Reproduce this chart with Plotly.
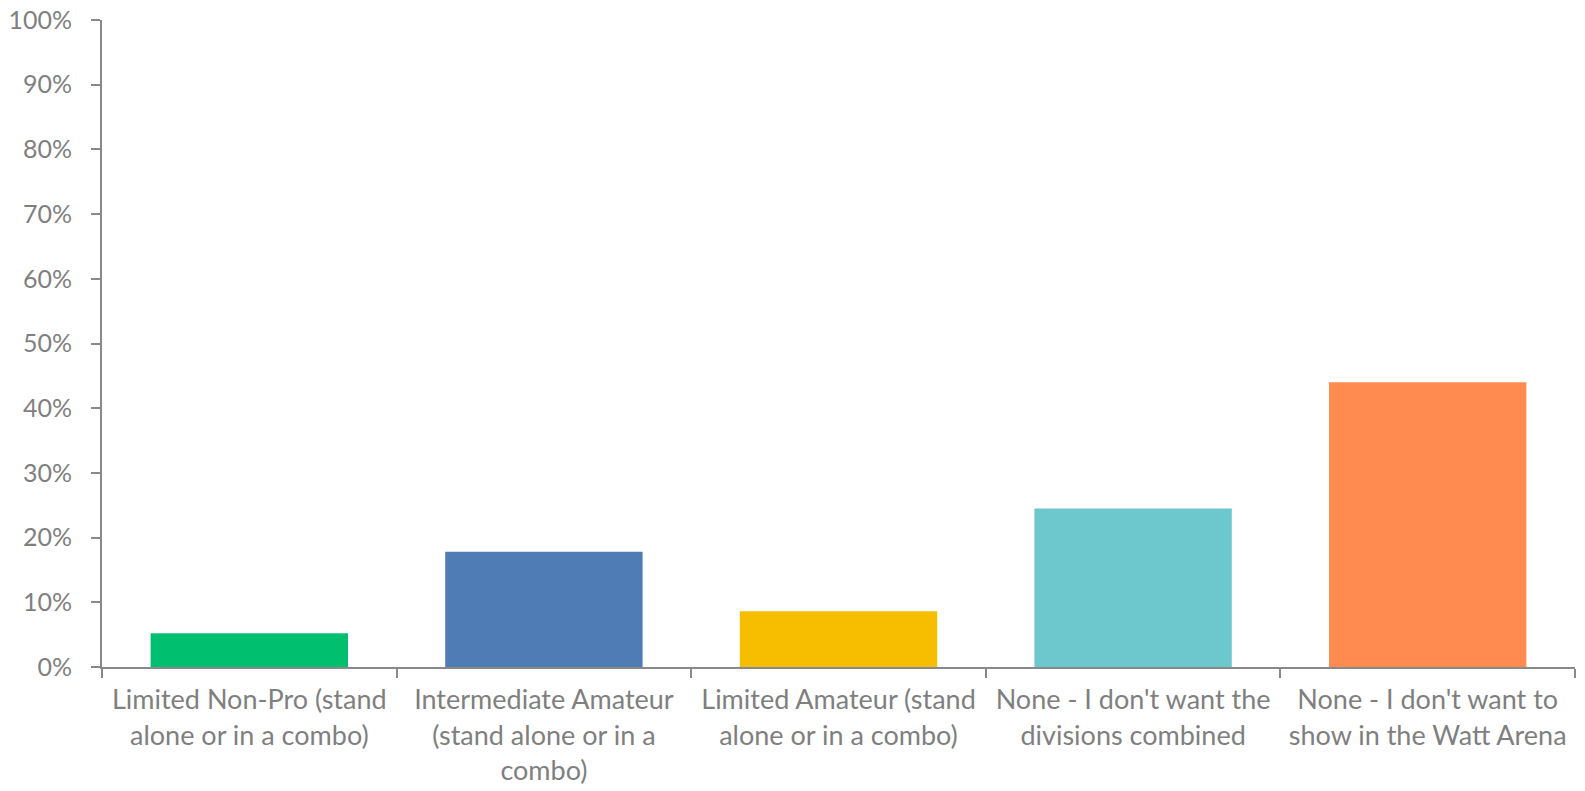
import plotly.graph_objects as go

categories = [
    "Limited Non-Pro (stand<br>alone or in a combo)",
    "Intermediate Amateur<br>(stand alone or in a<br>combo)",
    "Limited Amateur (stand<br>alone or in a combo)",
    "None - I don't want the<br>divisions combined",
    "None - I don't want to<br>show in the Watt Arena",
]
values = [0.052, 0.178, 0.086, 0.245, 0.440]
colors = ["#00BF6F", "#4F7CB5", "#F7BE00", "#6CC8CC", "#FF8B50"]
y_ticks = [i / 10 for i in range(11)]
y_tick_labels = [f"{i*10}%" for i in range(11)]

fig = go.Figure(
    go.Bar(x=categories, y=values, marker=dict(color=colors, line=dict(width=0)))
)

axis_color = "#898989"
font_color = "#7F7F7F"
fig.update_layout(
    width=1585,
    height=791,
    margin=dict(l=102, r=10, t=20, b=124, autoexpand=False),
    plot_bgcolor="white",
    paper_bgcolor="white",
    bargap=0.33,
    showlegend=False,
    font=dict(family="Lato", color=font_color, size=27),
)
fig.update_xaxes(
    showline=True, linecolor=axis_color, linewidth=2,
    ticks="outside", tickson="boundaries", ticklen=9, tickcolor=axis_color, tickwidth=2,
    showgrid=False, tickfont=dict(size=27, color=font_color), ticklabelstandoff=8,
    automargin=False, ticklabeloverflow="allow",
)
fig.update_yaxes(
    range=[0, 1], tickvals=y_ticks, ticktext=y_tick_labels,
    showline=True, linecolor=axis_color, linewidth=2,
    ticks="outside", ticklen=9, tickcolor=axis_color, tickwidth=2,
    showgrid=False, zeroline=False, tickfont=dict(size=25, color=font_color),
    ticklabelstandoff=14, automargin=False, ticklabeloverflow="allow",
)

fig.write_html(
    "out.html",
    config={"displayModeBar": False},
    post_script="document.body.style.margin='0';document.body.style.overflow='hidden';",
)
